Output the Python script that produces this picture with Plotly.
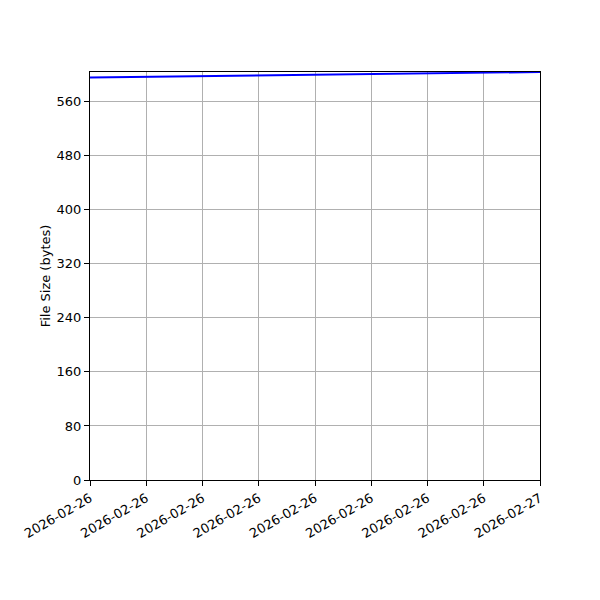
import plotly.graph_objects as go

# file size samples over the day
timestamps = [
    '2026-02-26 00:00', '2026-02-26 03:00', '2026-02-26 06:00',
    '2026-02-26 09:00', '2026-02-26 12:00', '2026-02-26 15:00',
    '2026-02-26 18:00', '2026-02-26 21:00', '2026-02-27 00:00',
]
file_sizes = [596, 597, 598, 599, 600, 601, 602, 603, 604]
y_ticks = [0, 80, 160, 240, 320, 400, 480, 560]

fig = go.Figure()
fig.add_trace(go.Scatter(
    x=timestamps,
    y=file_sizes,
    mode='lines',
    line=dict(color='blue', width=2),
    showlegend=False
))

axis_style = dict(
    showline=True,
    linecolor='black',
    linewidth=1,
    mirror=True,
    ticks='outside',
    ticklen=5,
    tickwidth=1,
    tickcolor='black',
    showgrid=True,
    gridcolor='#b0b0b0',
    gridwidth=1,
    zeroline=False,
    automargin=False,
    layer='above traces',
    tickfont=dict(family='DejaVu Sans', size=13, color='black'),
)

fig.update_xaxes(
    type='date',
    range=['2026-02-26 00:00', '2026-02-27 00:00'],
    tick0='2026-02-26 00:00',
    dtick=3 * 3600 * 1000,
    tickformat='%Y-%m-%d',
    tickangle=-30,
    **axis_style
)
fig.update_yaxes(
    range=[0, max(file_sizes)],
    tickvals=y_ticks,
    title=dict(text='File Size (bytes)', font=dict(family='DejaVu Sans', size=13, color='black'), standoff=3),
    **axis_style
)

# page body adds 8px, so margins are shifted to land the plot at 90..540 x 72..480
fig.update_layout(
    width=600,
    height=600,
    margin=dict(l=82, r=68, t=64, b=128),
    plot_bgcolor='white',
    paper_bgcolor='white',
    font=dict(family='DejaVu Sans', size=13, color='black'),
)

fig.write_html('out.html')
